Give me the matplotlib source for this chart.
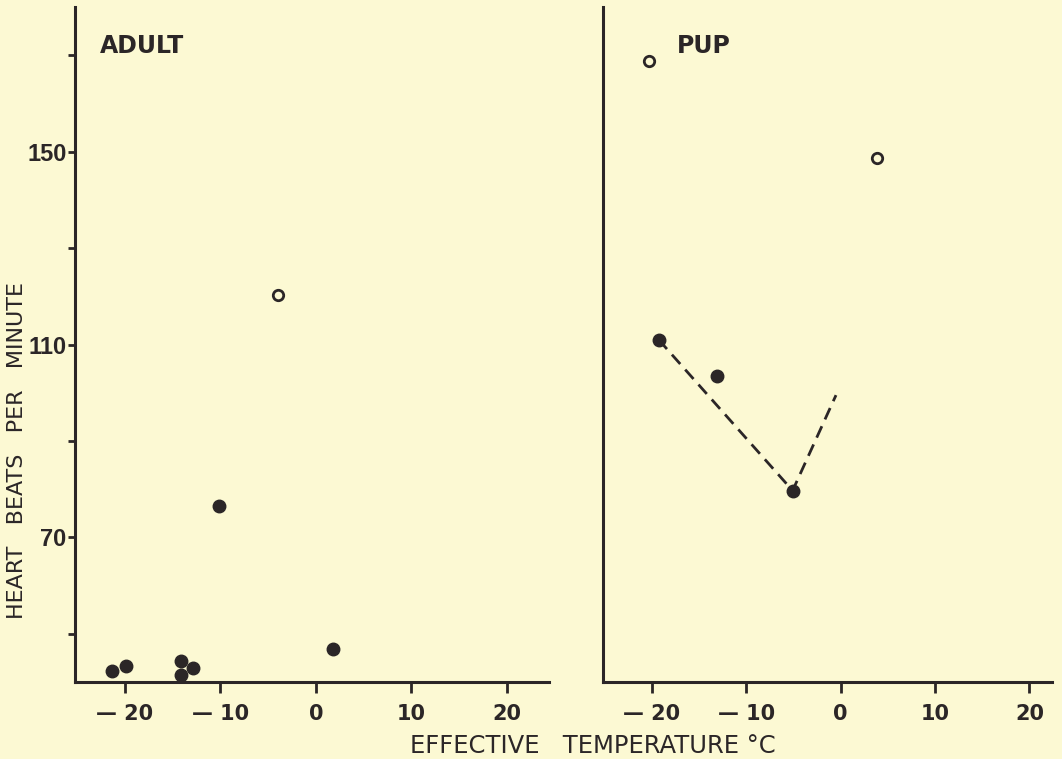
import matplotlib
matplotlib.use('Agg')
import matplotlib.pyplot as plt

# data
adult_x = [-21.3, -19.9, -14.1, -14.1, -12.8, -10.1, 1.8]
adult_y = [42.3, 43.3, 44.3, 41.5, 43.0, 76.6, 46.8]
adult_open_x = [-4.0]
adult_open_y = [120.3]

pup_x = [-19.3, -13.1, -5.1]
pup_y = [111.0, 103.5, 79.7]
pup_open_x = [-20.3, 3.8]
pup_open_y = [168.8, 148.6]
pup_line_x = [-19.3, -5.1, -0.5]
pup_line_y = [111.0, 79.7, 99.5]

x_ticks = [-20, -10, 0, 10, 20]
x_labels = ['\u2014 20', '\u2014 10', '0', '10', '20']
y_ticks = [50, 70, 90, 110, 130, 150, 170]
y_labels = ['', '70', '', '110', '', '150', '']

bg = '#fcf9d3'
ink = '#2b2627'

plt.rcParams['font.family'] = 'DejaVu Sans'

fig = plt.figure(figsize=(10.62, 7.59), dpi=100, facecolor=bg)
ax1 = fig.add_axes([0.0706, 0.1014, 0.4464, 0.8894])
ax2 = fig.add_axes([0.5678, 0.1014, 0.4228, 0.8894])

for ax in (ax1, ax2):
    ax.set_facecolor(bg)
    for s in ('top', 'right'):
        ax.spines[s].set_visible(False)
    for s in ('left', 'bottom'):
        ax.spines[s].set_linewidth(2.2)
        ax.spines[s].set_color(ink)
    ax.set_ylim(40, 180)
    ax.set_xticks(x_ticks)
    ax.set_xticklabels(x_labels, fontsize=15, fontweight='bold', color=ink)
    ax.tick_params(axis='x', direction='out', length=8, width=2, color=ink, pad=8)

ax1.set_xlim(-25.2, 24.4)
ax2.set_xlim(-25.2, 22.4)

# y axis only on the left panel
ax1.set_yticks(y_ticks)
ax1.set_yticklabels(y_labels, fontsize=17, fontweight='bold', color=ink,
                    family=['Liberation Sans', 'DejaVu Sans'])
ax1.tick_params(axis='y', direction='out', length=5, width=2, color=ink, pad=1)
ax2.set_yticks([])

# adult
ax1.plot(adult_x, adult_y, 'o', ms=9, color=ink, mec=ink)
ax1.plot(adult_open_x, adult_open_y, 'o', ms=7.5, mfc=bg, mec=ink, mew=2)
ax1.text(-22.6, 172, 'ADULT', fontsize=17, fontweight='bold', color=ink, va='center')

# pup
ax2.plot(pup_line_x, pup_line_y, color=ink, lw=2, dashes=(4.5, 2.7))
ax2.plot(pup_x, pup_y, 'o', ms=9, color=ink, mec=ink)
ax2.plot(pup_open_x, pup_open_y, 'o', ms=7.5, mfc=bg, mec=ink, mew=2)
ax2.text(-17.4, 172, 'PUP', fontsize=17, fontweight='bold', color=ink, va='center')

fig.text(0.016, 0.406, 'HEART   BEATS   PER   MINUTE', rotation=90, fontsize=16,
         color=ink, ha='center', va='center')
fig.text(0.558, 0.017, 'EFFECTIVE   TEMPERATURE \u00b0C', fontsize=17.5,
         color=ink, ha='center', va='center')

fig.savefig('out.png', dpi=100, facecolor=bg)
